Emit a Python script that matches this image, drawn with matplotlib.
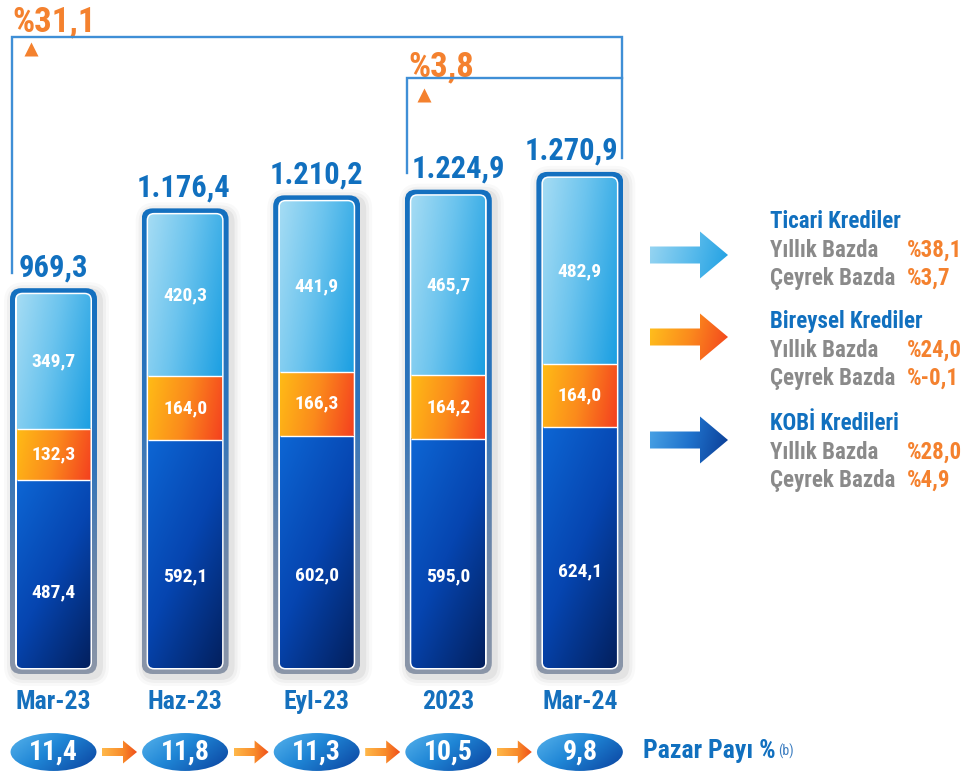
import numpy as np
import matplotlib
matplotlib.use('Agg')
import matplotlib.pyplot as plt
from matplotlib.patches import FancyBboxPatch, Ellipse, Polygon
from matplotlib.colors import to_rgb
from matplotlib import font_manager

# ---------------- data ----------------
categories = ['Mar-23', 'Haz-23', 'Eyl-23', '2023', 'Mar-24']
kobi = [487.4, 592.1, 602.0, 595.0, 624.1]
bireysel = [132.3, 164.0, 166.3, 164.2, 164.0]
ticari = [349.7, 420.3, 441.9, 465.7, 482.9]
totals = [969.3, 1176.4, 1210.2, 1224.9, 1270.9]
market_share = [11.4, 11.8, 11.3, 10.5, 9.8]
growth_labels = ['%31,1', '%3,8']
segment_names = ['Ticari Krediler', 'Bireysel Krediler', 'KOBİ Kredileri']
yearly_growth = ['%38,1', '%24,0', '%28,0']
quarterly_growth = ['%3,7', '%-0,1', '%4,9']

# ---------------- fonts ----------------
bold_fams = {f.name for f in font_manager.fontManager.ttflist
             if (isinstance(f.weight, int) and f.weight >= 600) or f.weight == 'bold'}
FONT = 'Liberation Sans'
for cand in ['Roboto Condensed', 'Archivo Narrow', 'PT Sans Narrow', 'Barlow Condensed',
             'Asap Condensed', 'Liberation Sans Narrow']:
    if cand in bold_fams:
        FONT = cand
        break
plt.rcParams['font.family'] = [FONT, 'DejaVu Sans']

BLUE = '#1170bf'
ORANGE = '#f4812e'
GRAY = '#8a8a8a'


def tr(v):
    s = f"{v:,.1f}"
    return s.replace(',', 'X').replace('.', ',').replace('X', '.')


# ---------------- layout helpers ----------------
S = 0.3856      # pixels per data unit (vertical)
BASE = 668.0    # pixel row of value 0
XC0 = 53.5      # pixel column of first category
DX = 131.6      # pixels per category step
MA = DX / S


def X(px):
    return (px - XC0) / DX


def Y(py):
    return (BASE - py) / S


def W(pw):
    return pw / DX


def H(ph):
    return ph / S


def grad(stops, direction=(1, 0), n=80):
    u = np.linspace(0, 1, n)
    U, V = np.meshgrid(u, u)
    dx, dy = direction
    t = (dx * U + dy * V) / (abs(dx) + abs(dy))
    pos = np.array([p for p, _ in stops])
    cols = np.array([to_rgb(c) for _, c in stops])
    img = np.zeros((n, n, 3))
    for k in range(3):
        img[..., k] = np.interp(t, pos, cols[:, k])
    return img


def gimg(ax, stops, direction, extent, clip, z):
    im = ax.imshow(grad(stops, direction), extent=extent, origin='upper',
                   aspect='auto', interpolation='bilinear', zorder=z)
    im.set_clip_path(clip)
    return im


def rbox(x0, y0, w, h, r, **kw):
    return FancyBboxPatch((x0, y0), w, h,
                          boxstyle=f"round,pad=0,rounding_size={r}",
                          mutation_aspect=MA, **kw)


fig = plt.figure(figsize=(9.75, 7.74), dpi=100)
fig.patch.set_facecolor('white')
ax = fig.add_axes([0, 0, 1, 1])
ax.set_axis_off()

xs = np.arange(len(categories))
kobi_a = np.array(kobi)
bir_a = np.array(bireysel)
tic_a = np.array(ticari)

FW = W(74)
b_kobi = ax.bar(xs, kobi_a, width=FW, bottom=0, color='none', linewidth=0)
b_bir = ax.bar(xs, bir_a, width=FW, bottom=kobi_a, color='none', linewidth=0)
b_tic = ax.bar(xs, tic_a, width=FW, bottom=kobi_a + bir_a, color='none', linewidth=0)

tic_stops = [(0, '#a5dcf4'), (0.45, '#6cc4ee'), (1, '#1b9fe2')]
bir_stops = [(0, '#ffbb16'), (0.5, '#fb8a1c'), (1, '#f4401f')]
kobi_stops = [(0, '#0d66d4'), (0.5, '#0645b0'), (1, '#03205e')]
frame_stops = [(0, '#1470c0'), (0.45, '#2f74bb'), (0.75, '#6d86a8'), (1, '#8b96a8')]
total_shift_px = [0, -2, 0, 10, -8]

for i in xs:
    top = b_tic[i].get_y() + b_tic[i].get_height()
    # soft shadow
    for k, a in [(9, 0.025), (6, 0.035), (3, 0.05)]:
        sh = rbox(i - W(43.5 + k) + W(3), -H(6 + k) - H(3), W(87 + 2 * k), top + H(12 + 2 * k),
                  W(11 + k), facecolor='black', edgecolor='none', alpha=a, zorder=1)
        ax.add_patch(sh)
    outer = rbox(i - W(43.5), -H(6), W(87), top + H(12), W(11),
                 facecolor='none', edgecolor='none', zorder=2)
    ax.add_patch(outer)
    gimg(ax, frame_stops, (0, 1),
         (i - W(43.5), i + W(43.5), -H(6), top + H(6)), outer, 2)
    white = rbox(i - W(38.5), -H(1.5), W(77), top + H(3), W(7.5),
                 facecolor='white', edgecolor='none', zorder=3)
    ax.add_patch(white)
    fill = rbox(i - W(37), 0, W(74), top, W(6),
                facecolor='none', edgecolor='none', zorder=4)
    ax.add_patch(fill)
    for bars, stops, d in [(b_kobi, kobi_stops, (0.7, 1)),
                           (b_bir, bir_stops, (1, 0.15)),
                           (b_tic, tic_stops, (1, 0.35))]:
        r = bars[i]
        gimg(ax, stops, d, (r.get_x(), r.get_x() + r.get_width(),
                            r.get_y(), r.get_y() + r.get_height()), fill, 4)
    for yb in [b_bir[i].get_y(), b_tic[i].get_y()]:
        ax.hlines(yb, i - W(37), i + W(37), colors='white', lw=1.0, zorder=5)

    # segment values
    ax.text(i, b_kobi[i].get_y() + 0.4 * b_kobi[i].get_height(), tr(kobi[i]),
            ha='center', va='center', color='white', fontsize=14, fontweight='bold', zorder=6)
    ax.text(i, b_bir[i].get_y() + 0.5 * b_bir[i].get_height(), tr(bireysel[i]),
            ha='center', va='center', color='white', fontsize=14, fontweight='bold', zorder=6)
    ax.text(i, b_tic[i].get_y() + 0.5 * b_tic[i].get_height(), tr(ticari[i]),
            ha='center', va='center', color='white', fontsize=14, fontweight='bold', zorder=6)
    # totals
    ax.text(i + W(total_shift_px[i]), top + H(18), tr(totals[i]), ha='center', va='baseline',
            color=BLUE, fontsize=22, fontweight='bold', zorder=6)
    # category
    ax.text(i, Y(702), categories[i], ha='center', va='center',
            color='#1570bd', fontsize=18.5, fontweight='bold', zorder=6)
    # market share ellipse
    el = Ellipse((i, Y(752)), W(88), H(40), facecolor='none', edgecolor='white',
                 lw=1.5, zorder=7)
    ax.add_patch(el)
    gimg(ax, [(0, '#59b4ec'), (0.45, '#1f86d6'), (1, '#0a3f9c')], (1, 0.6),
         (i - W(44), i + W(44), Y(772), Y(732)), el, 6)
    ax.text(i, Y(752), f"{market_share[i]:.1f}".replace('.', ','), ha='center', va='center',
            color='white', fontsize=20, fontweight='bold', zorder=8)
    # small orange arrows between ellipses
    if i < len(xs) - 1:
        pts = [(i + W(48.5), Y(748)), (i + W(69.5), Y(748)), (i + W(69.5), Y(740.5)),
               (i + W(83.5), Y(752)), (i + W(69.5), Y(763.5)), (i + W(69.5), Y(756)),
               (i + W(48.5), Y(756))]
        pg = Polygon(pts, closed=True, facecolor='none', edgecolor='none', zorder=6)
        ax.add_patch(pg)
        gimg(ax, [(0, '#ffb84a'), (0.6, '#f88a2a'), (1, '#f0501a')], (1, 0),
             (i + W(48.5), i + W(83.5), Y(764), Y(740)), pg, 6)

# ---------------- growth brackets ----------------
top0 = b_tic[0].get_y() + b_tic[0].get_height()
top3 = b_tic[3].get_y() + b_tic[3].get_height()
top4 = b_tic[4].get_y() + b_tic[4].get_height()
BR = '#3f8fd6'
ax.plot([X(12), X(12), X(622), X(622)],
        [top0 + H(21), Y(37), Y(37), top4 + H(20)], color=BR, lw=1.7,
        solid_joinstyle='miter', zorder=5)
ax.plot([X(407), X(407), X(622)], [top3 + H(23), Y(78), Y(78)], color=BR, lw=1.7,
        solid_joinstyle='miter', zorder=5)
ax.text(X(12), Y(31), growth_labels[0], ha='left', va='baseline', color=ORANGE,
        fontsize=25, fontweight='bold')
ax.text(X(408), Y(76), growth_labels[1], ha='left', va='baseline', color=ORANGE,
        fontsize=25, fontweight='bold')
ax.plot([X(31)], [Y(49)], marker='^', ms=10, color=ORANGE, mec='none')
ax.plot([X(424)], [Y(95)], marker='^', ms=10, color=ORANGE, mec='none')

# ---------------- right-side legend ----------------
arrow_cy = [255, 337, 440]
arrow_stops = [[(0, '#9ad6f2'), (0.5, '#5cbcec'), (1, '#1d9fe2')],
               [(0, '#ffc21c'), (0.5, '#fb8a1d'), (1, '#f3401e')],
               [(0, '#4ba4e6'), (0.5, '#1f72cc'), (1, '#0a3a92')]]
title_base = [228, 328, 430]
for k in range(3):
    cy = arrow_cy[k]
    pts = [(X(650), Y(cy - 8.5)), (X(700), Y(cy - 8.5)), (X(700), Y(cy - 23.5)),
           (X(728), Y(cy)), (X(700), Y(cy + 23.5)), (X(700), Y(cy + 8.5)),
           (X(650), Y(cy + 8.5))]
    pg = Polygon(pts, closed=True, facecolor='none', edgecolor='none', zorder=5)
    ax.add_patch(pg)
    gimg(ax, arrow_stops[k], (1, 0.15), (X(650), X(728), Y(cy + 24), Y(cy - 24)), pg, 5)
    tb = title_base[k]
    ax.text(X(770), Y(tb), segment_names[k], ha='left', va='baseline', color=BLUE,
            fontsize=16.5, fontweight='bold')
    ax.text(X(770), Y(tb + 29), 'Yıllık Bazda', ha='left', va='baseline', color=GRAY,
            fontsize=16.5, fontweight='bold')
    ax.text(X(770), Y(tb + 57), 'Çeyrek Bazda', ha='left', va='baseline', color=GRAY,
            fontsize=16.5, fontweight='bold')
    ax.text(X(907), Y(tb + 29), yearly_growth[k], ha='left', va='baseline', color=ORANGE,
            fontsize=16.5, fontweight='bold')
    ax.text(X(907), Y(tb + 57), quarterly_growth[k], ha='left', va='baseline', color=ORANGE,
            fontsize=16.5, fontweight='bold')

pz = ax.text(X(643), Y(758), 'Pazar Payı %', ha='left', va='baseline', color=BLUE,
             fontsize=18.5, fontweight='bold')
ax.annotate('(b)', xy=(1, 0), xycoords=pz, xytext=(2, 5), textcoords='offset points',
            ha='left', va='baseline', color='#3a7cc0', fontsize=10)

ax.set_xlim(X(0), X(975))
ax.set_ylim(Y(774), Y(0))

fig.savefig('out.png', dpi=100, facecolor='white')
